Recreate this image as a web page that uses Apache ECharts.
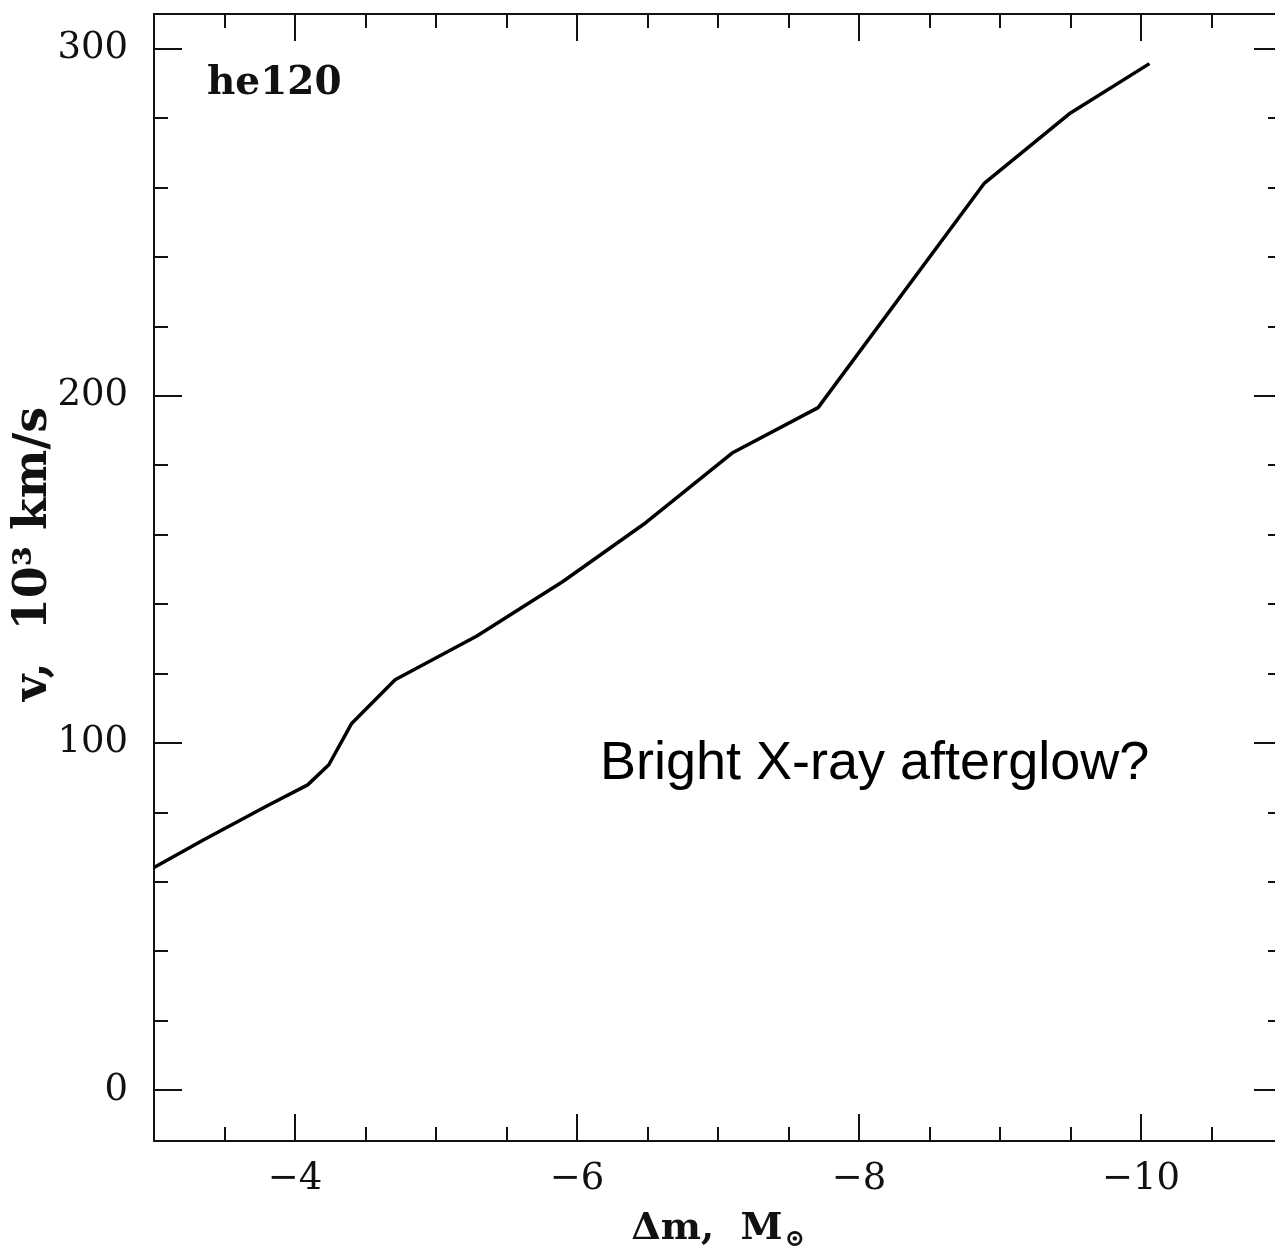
<!DOCTYPE html>
<html>
<head>
<meta charset="utf-8">
<script src="https://cdn.jsdelivr.net/npm/echarts@6/dist/echarts.min.js"></script>
<style>
  html, body { margin: 0; padding: 0; background: #ffffff; overflow: hidden; }
  #chart { width: 1275px; height: 1259px; }
</style>
</head>
<body>
<div id="chart"></div>
<script>
// Data
const deltaM = [-3.00, -3.35, -3.80, -4.09, -4.24, -4.40, -4.71, -5.29, -5.90, -6.49, -7.10, -7.71, -8.89, -9.50, -10.06];
const velocity = [64.1, 72.0, 81.8, 87.9, 93.7, 105.5, 118.2, 130.8, 146.5, 163.5, 183.5, 196.6, 261.3, 281.5, 295.7];

const xMajorTicks = [-4, -6, -8, -10];
const xMinorTicks = [-3.5, -4.5, -5, -5.5, -6.5, -7, -7.5, -8.5, -9, -9.5, -10.5];
const yMajorTicks = [0, 100, 200, 300];
const yMinorTicks = [20, 40, 60, 80, 120, 140, 160, 180, 220, 240, 260, 280];

const modelLabel = 'he120';
const noteText = 'Bright X-ray afterglow?';

const X_MIN = -11, X_MAX = -3, Y_MIN = -14.7, Y_MAX = 310;
const ink = '#111111';
const serif = '"DejaVu Serif", serif';

function fmtMinus(v) { return (v < 0 ? '\u2212' : '') + Math.abs(v); }

function xAxisDef(position, ticks, len, showLabel, showLine) {
  return {
    type: 'value', position: position, inverse: true, min: X_MIN, max: X_MAX,
    splitLine: { show: false },
    axisLine: { show: showLine, onZero: false, lineStyle: { color: ink, width: 2 } },
    axisTick: { show: true, inside: true, length: len, customValues: ticks, lineStyle: { color: ink, width: 2 } },
    axisLabel: showLabel ? { show: true, customValues: ticks, formatter: fmtMinus, margin: 20,
      fontFamily: serif, fontSize: 37, color: ink } : { show: false }
  };
}
function yAxisDef(position, ticks, len, showLabel, showLine) {
  return {
    type: 'value', position: position, min: Y_MIN, max: Y_MAX,
    splitLine: { show: false },
    axisLine: { show: showLine, onZero: false, lineStyle: { color: ink, width: 2 } },
    axisTick: { show: true, inside: true, length: len, customValues: ticks, lineStyle: { color: ink, width: 2 } },
    axisLabel: showLabel ? { show: true, customValues: ticks, formatter: fmtMinus, margin: 26,
      fontFamily: serif, fontSize: 37, color: ink } : { show: false }
  };
}

const chart = echarts.init(document.getElementById('chart'), null, { renderer: 'canvas' });
chart.setOption({
  animation: false,
  backgroundColor: '#ffffff',
  grid: { left: 154, top: 14, width: 1128, height: 1127, containLabel: false, outerBoundsMode: 'none' },
  xAxis: [
    xAxisDef('bottom', xMajorTicks, 27, true, true),
    xAxisDef('bottom', xMinorTicks, 14, false, false),
    xAxisDef('top', xMajorTicks, 27, false, true),
    xAxisDef('top', xMinorTicks, 14, false, false)
  ],
  yAxis: [
    yAxisDef('left', yMajorTicks, 28, true, true),
    yAxisDef('left', yMinorTicks, 14, false, false),
    yAxisDef('right', yMajorTicks, 28, false, true),
    yAxisDef('right', yMinorTicks, 14, false, false)
  ],
  series: [{
    type: 'line',
    xAxisIndex: 0, yAxisIndex: 0,
    data: deltaM.map((x, i) => [x, velocity[i]]),
    showSymbol: false, symbol: 'none',
    lineStyle: { color: '#000000', width: 3.5 },
    silent: true
  }],
  graphic: [
    { type: 'text', left: 207, top: 64, style: { text: modelLabel, fontFamily: serif, fontWeight: 'bold', fontSize: 39, fill: ink } },
    { type: 'text', left: 600, top: 737, style: { text: noteText, fontFamily: '"Liberation Sans", Arial, sans-serif', fontSize: 54, fill: '#000000' } },
    { type: 'text', x: 718, y: 1229, style: {
        text: '{a|\u0394m,  M}{s|\u2299}', align: 'center', verticalAlign: 'middle',
        rich: {
          a: { fontFamily: serif, fontWeight: 'bold', fontSize: 38, fill: ink },
          s: { fontFamily: serif, fontWeight: 'bold', fontSize: 24, fill: ink, padding: [22, 0, 0, 2] }
        } } },
    { type: 'text', x: 34, y: 554, rotation: Math.PI / 2, style: {
        text: 'v,  10\u00B3 km/s', align: 'center', verticalAlign: 'middle',
        fontFamily: serif, fontWeight: 'bold', fontSize: 46, fill: ink } }
  ]
});
</script>
</body>
</html>
